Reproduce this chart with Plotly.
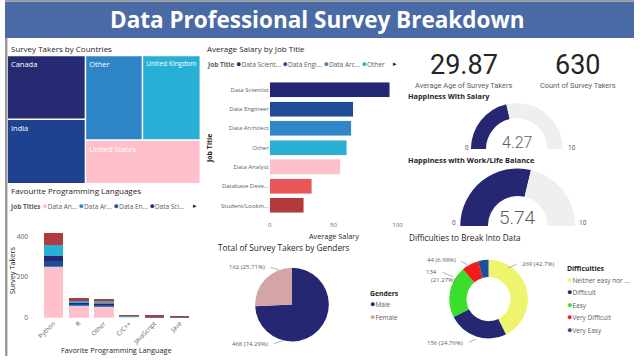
import plotly.graph_objects as go

# ---------------- DATA ----------------
countries = ["Canada", "India", "Other", "United Kingdom", "United States"]
country_values = [126, 128, 122, 124, 127]

job_titles = ["Data Scientist", "Data Engineer", "Data Architect", "Other",
              "Data Analyst", "Database Deve...", "Student/Lookin..."]
avg_salary = [93.8, 65.4, 63.8, 60.5, 55.1, 33.1, 26.7]

languages = ["Python", "R", "Other", "C/C++", "JavaScript", "Java"]
lang_series = ["Data Analyst", "Data Architect", "Data Engineer", "Data Scientist",
               "Database Developer", "Other", "Student/Looking/None"]
lang_analyst = [251, 60, 54, 2, 1, 1]
lang_architect = [3, 3, 4, 1, 0, 0]
lang_engineer = [28, 3, 6, 1, 2, 1]
lang_scientist = [21, 5, 5, 2, 2, 0]
lang_dbdev = [3, 2, 2, 0, 1, 0]
lang_other = [52, 10, 13, 1, 0, 2]
lang_student = [59, 16, 10, 1, 1, 1]

genders = ["Male", "Female"]
gender_counts = [468, 162]

difficulties = ["Neither easy nor difficult", "Difficult", "Easy", "Very Difficult", "Very Easy"]
difficulty_counts = [269, 156, 134, 44, 27]

avg_age = 29.87
survey_count = 630
happy_salary = 4.27
happy_worklife = 5.74
gauge_max = 10

# ---------------- STYLE ----------------
NAVY = "#252773"
C_COUNTRY = ["#262A73", "#1F4290", "#2E85C5", "#27AFD6", "#FFC0CB"]
C_JOBS = ["#252773", "#1F4C95", "#2F87C8", "#2AB0D4", "#FFC0CB", "#EB5757", "#B33A3A"]
C_LANG = ["#FFC0CB", "#2F87C8", "#1F4C95", "#252773", "#EB5757", "#2AB0D4", "#B33A3A"]
C_GENDER = [NAVY, "#D4A5A5"]
C_DIFF = ["#EEF46C", NAVY, "#3ADF2B", "#F21B1B", "#1F4E9A"]
GAUGE_BG = "#EFEFEF"
TXT = "#252423"
GRY = "#605E5C"
TFONT = "Open Sans"
NFONT = "Roboto"

W, H = 640, 360
def px(x):
    return x / W
def py(y):
    return 1 - y / H

fig = go.Figure()

# Treemap
fig.add_trace(go.Treemap(
    labels=countries, parents=[""] * len(countries), values=country_values,
    sort=False, tiling=dict(packing="binary", pad=1.5),
    marker=dict(colors=C_COUNTRY, line=dict(width=0), pad=dict(t=0, l=0, r=0, b=0)),
    textinfo="label", textposition="top left",
    textfont=dict(size=7.5, color="white", family=TFONT),
    pathbar=dict(visible=False), root=dict(color="rgba(0,0,0,0)"),
    domain=dict(x=[px(3), px(198)], y=[py(185), py(57)]),
    hoverinfo="skip",
))

# Salary bars
fig.add_trace(go.Bar(
    x=avg_salary, y=job_titles, orientation="h", marker=dict(color=C_JOBS),
    xaxis="x", yaxis="y", showlegend=False, hoverinfo="skip",
))

# Language stacked bars
lang_values = [lang_analyst, lang_architect, lang_engineer, lang_scientist,
               lang_dbdev, lang_other, lang_student]
for name, vals, col in zip(lang_series, lang_values, C_LANG):
    fig.add_trace(go.Bar(
        x=languages, y=vals, name=name, marker=dict(color=col, line=dict(width=0)),
        xaxis="x2", yaxis="y2", showlegend=False, hoverinfo="skip",
    ))

# Gender pie
fig.add_trace(go.Pie(
    labels=genders, values=gender_counts, sort=False, direction="clockwise", rotation=0,
    marker=dict(colors=C_GENDER), textinfo="none", showlegend=False, hoverinfo="skip",
    domain=dict(x=[px(292 - 37.5), px(292 + 37.5)], y=[py(308 + 37.5), py(308 - 37.5)]),
))

# Difficulties donut
fig.add_trace(go.Pie(
    labels=difficulties, values=difficulty_counts, sort=False, direction="clockwise",
    rotation=0, hole=0.56, marker=dict(colors=C_DIFF), textinfo="none",
    showlegend=False, hoverinfo="skip",
    domain=dict(x=[px(492 - 40), px(492 + 40)], y=[py(302.5 + 40), py(302.5 - 40)]),
))

# Gauges (half donuts)
def gauge(value, cx, cy, r, hole):
    fig.add_trace(go.Pie(
        values=[value, gauge_max - value, gauge_max], sort=False, direction="clockwise",
        rotation=-90, hole=hole,
        marker=dict(colors=[NAVY, GAUGE_BG, "rgba(0,0,0,0)"]), textinfo="none",
        showlegend=False, hoverinfo="skip",
        domain=dict(x=[px(cx - r), px(cx + r)], y=[py(cy + r), py(cy - r)]),
    ))

gauge(happy_salary, 520.7, 150.7, 46.7, 0.67)
gauge(happy_worklife, 521.7, 228.5, 58.5, 0.52)

ann = []
def text(x, y, s, size=8, color=TXT, xanchor="left", family=TFONT, weight="normal", **kw):
    ann.append(dict(x=px(x), y=py(y), xref="paper", yref="paper", text=s, showarrow=False,
                    xanchor=xanchor, yanchor="middle",
                    font=dict(size=size, color=color, family=family, weight=weight), **kw))

# Title
text(318, 20, "<b>Data Professional Survey Breakdown</b>", size=22.5, color="white", xanchor="center")

# Panel titles
text(4, 49, "Survey Takers by Countries", size=8)
text(204, 49, "Average Salary by Job Title", size=8)
text(4, 192.3, "Favourite Programming Languages", size=8)
text(215, 250.5, "Total of Survey Takers by Genders", size=8.3)
text(409, 240, "Difficulties to Break Into Data", size=8.2)
text(408, 97.3, "<b>Happiness With Salary</b>", size=7.3)
text(408, 162.3, "<b>Happiness with Work/Life Balance</b>", size=7.4)

def dot(c):
    return f"<span style='color:{c};font-size:9px'>●</span>"

# Legends
text(203, 64.3, "<b>Job Title</b> " + dot(C_JOBS[0]) + "Data Scient... " + dot(C_JOBS[1]) +
     "Data Engi... " + dot(C_JOBS[2]) + "Data Arc... " + dot(C_JOBS[3]) + "Other", size=6.5, color=GRY)
text(397, 64.3, "▸", size=7, color=TXT, xanchor="center")
text(3, 208.3, "<b>Job Titles</b> " + dot(C_LANG[0]) + "Data An... " + dot(C_LANG[1]) +
     "Data Ar... " + dot(C_LANG[2]) + "Data En... " + dot(C_LANG[3]) + "Data Sci...", size=6.5, color=GRY)
text(193, 208.3, "▸", size=7, color=TXT, xanchor="center")

# Axis titles
text(208.3, 150, "<b>Job Title</b>", size=7, color=TXT, xanchor="center", textangle=-90)
text(334.3, 239, "Average Salary", size=7.3, color=TXT, xanchor="center")
text(7.5, 273, "Survey Takers", size=7.3, color=TXT, xanchor="center", textangle=-90)
text(113, 354.3, "Favorite Programming Language", size=7.3, color=TXT, xanchor="center")

# KPIs
text(467.5, 65.3, f"{avg_age:.2f}", size=27, color=TXT, xanchor="center", family=NFONT)
text(466.7, 86.3, "Average Age of Survey Takers", size=7.4, color=GRY, xanchor="center", family=NFONT)
text(583.3, 65.3, f"{survey_count}", size=27, color=TXT, xanchor="center", family=NFONT)
text(583.3, 86.3, "Count of Survey Takers", size=7.4, color=GRY, xanchor="center", family=NFONT)

# Gauge labels
text(521.7, 144, f"{happy_salary:.2f}", size=16, color=GRY, xanchor="center", family=NFONT, weight=300)
text(470, 149.7, "0", size=6.5, color=GRY, xanchor="center", family=NFONT)
text(576.7, 149.7, f"{gauge_max}", size=6.5, color=GRY, xanchor="center", family=NFONT)
text(521.7, 220, f"{happy_worklife:.2f}", size=19, color=GRY, xanchor="center", family=NFONT, weight=300)
text(457.3, 226, "0", size=6.5, color=GRY, xanchor="center", family=NFONT)
text(588.3, 226, f"{gauge_max}", size=6.5, color=GRY, xanchor="center", family=NFONT)

def pct(v, tot):
    s = f"{v / tot * 100:.2f}".rstrip("0").rstrip(".")
    return f"{v} ({s}%)"

# Leader lines for labels
def leader(tx, ty, s, lx, ly, xanchor="right"):
    text(tx, ty, s, size=6, color=GRY, xanchor=xanchor)
    sx = tx + (2 if xanchor == "right" else -2)
    ann.append(dict(x=px(lx), y=py(ly), xref="paper", yref="paper",
                    ax=sx - lx, ay=ty - ly, axref="pixel", ayref="pixel",
                    showarrow=True, arrowhead=0, arrowwidth=0.8, arrowcolor="#A0A0A0",
                    text="", standoff=0, startstandoff=0))

gt = sum(gender_counts)
leader(267, 270, pct(gender_counts[1], gt), 279, 273)
leader(270, 348.3, pct(gender_counts[0], gt), 284, 344)
text(369.3, 296.7, "<b>Genders</b>", size=6.8, color=TXT)
text(369.5, 307, dot(C_GENDER[0]) + "Male", size=6.5, color=GRY)
text(369.5, 320, dot(C_GENDER[1]) + "Female", size=6.5, color=GRY)

dt = sum(difficulty_counts)
leader(524, 266.5, pct(difficulty_counts[0], dt), 512, 271, xanchor="left")
leader(460.5, 263.3, pct(difficulty_counts[3], dt), 471, 268)
leader(442, 274.8, f"{difficulty_counts[2]}", 456, 280)
text(431.2, 283.3, f"({difficulty_counts[2] / dt * 100:.2f}%)", size=6, color=GRY)
leader(468.5, 346.7, pct(difficulty_counts[1], dt), 479, 343)
text(570, 272, "<b>Difficulties</b>", size=6.8, color=TXT)
diff_short = ["Neither easy nor ...", "Difficult", "Easy", "Very Difficult", "Very Easy"]
diff_rows = [282.3, 294.3, 307.7, 320, 332.7]
for lbl, c, yy in zip(diff_short, C_DIFF, diff_rows):
    text(569.5, yy, dot(c) + lbl, size=6.5, color=GRY)

shapes = [
    dict(type="rect", xref="paper", yref="paper", x0=0, x1=1, y0=py(38.5), y1=py(1.5),
         fillcolor="#4A6AA6", line=dict(width=0), layer="below"),
    dict(type="rect", xref="paper", yref="paper", x0=0, x1=1, y0=py(1.5), y1=1,
         fillcolor="#9A9A9A", line=dict(width=0), layer="below"),
    dict(type="rect", xref="paper", yref="paper", x0=0, x1=px(2.5), y0=0, y1=py(38.5),
         fillcolor="#9A9A9A", line=dict(width=0), layer="below"),
]

axis_font = dict(size=6, color=GRY, family=TFONT)
fig.update_layout(
    width=W, height=H, margin=dict(l=0, r=0, t=0, b=0),
    paper_bgcolor="white", plot_bgcolor="white",
    barmode="stack", bargap=0.22, showlegend=False,
    font=dict(family=TFONT, color=TXT),
    annotations=ann, shapes=shapes,
    xaxis=dict(domain=[px(269.3), px(399.3)], range=[0, 100], tickvals=[0, 50, 100],
               showgrid=False, zeroline=False, showline=False, tickfont=axis_font,
               ticklabelstandoff=5, anchor="y"),
    yaxis=dict(domain=[py(217.5), py(81)], autorange="reversed", showgrid=False,
               zeroline=False, showline=False, tickfont=axis_font, anchor="x"),
    xaxis2=dict(domain=[px(36.5), px(190.5)], showgrid=False, zeroline=False, showline=False,
                tickfont=dict(size=6.3, color=GRY, family=TFONT), tickangle=-45, anchor="y2"),
    yaxis2=dict(domain=[py(321.3), py(229)], range=[0, 450], tickvals=[0, 200, 400],
                showgrid=False, zeroline=False, showline=False,
                tickfont=dict(size=6.5, color=GRY, family=TFONT),
                ticklabelstandoff=12, anchor="x2"),
)

fig.write_html("out.html", post_script="document.body.style.margin='0';document.body.style.overflow='hidden';")
